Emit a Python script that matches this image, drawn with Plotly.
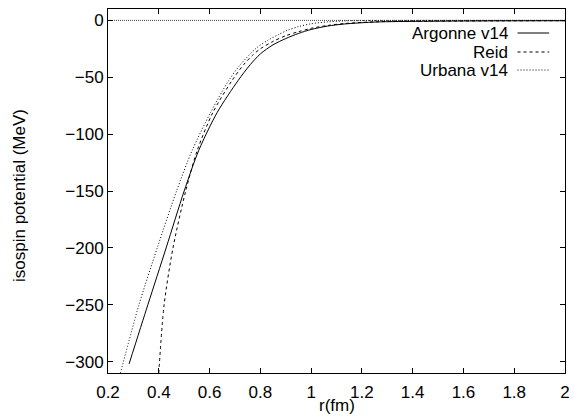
import plotly.graph_objects as go

# ---- data ----
r_argonne = [0.283, 0.357, 0.429, 0.50, 0.558, 0.63, 0.712, 0.76, 0.80, 0.85, 0.90, 0.95, 1.0, 1.065, 1.13, 1.26, 1.5, 1.75, 2.0]
v_argonne = [-302, -250, -200, -150, -114, -81, -53, -39, -29.5, -21.5, -16, -11.5, -8, -5, -3.2, -1.4, -0.7, -0.4, -0.3]

r_reid = [0.40, 0.421, 0.456, 0.506, 0.552, 0.613, 0.688, 0.734, 0.77, 0.80, 0.85, 0.90, 0.95, 1.0, 1.065, 1.13, 1.26, 1.5, 1.75, 2.0]
v_reid = [-310, -250, -200, -150, -114, -81, -53, -39, -30.5, -25, -18.5, -13.5, -10, -7, -4.5, -2.8, -1.2, -0.6, -0.4, -0.3]

r_urbana = [0.249, 0.322, 0.394, 0.47, 0.532, 0.604, 0.675, 0.721, 0.786, 0.83, 0.87, 0.909, 0.95, 1.0, 1.065, 1.13, 1.26, 1.5, 2.0]
v_urbana = [-310, -250, -200, -150, -114, -81, -53, -39, -24, -17.5, -12.6, -8.5, -5.5, -3, -1.3, -0.5, -0.1, 0, 0]

x_ticks = [0.2, 0.4, 0.6, 0.8, 1.0, 1.2, 1.4, 1.6, 1.8, 2.0]
x_ticktext = ["0.2", "0.4", "0.6", "0.8", "1", "1.2", "1.4", "1.6", "1.8", "2"]
y_ticks = [0, -50, -100, -150, -200, -250, -300]

series_names = ["Argonne v14", "Reid", "Urbana v14"]
series_dash = ["solid", "3px,3px", "1px,2px"]

FONT = "Liberation Sans, Arial, sans-serif"

PL, PR, PT, PB = 108, 570, 9, 373  # plot area in page pixels

fig = go.Figure()
for name, rr, vv, dash in zip(series_names,
                              [r_argonne, r_reid, r_urbana],
                              [v_argonne, v_reid, v_urbana],
                              series_dash):
    fig.add_trace(go.Scatter(x=rr, y=vv, mode="lines", name=name,
                             line=dict(color="black", width=1, dash=dash, shape="spline", smoothing=0.8),
                             showlegend=False, cliponaxis=True))

axis_common = dict(showgrid=False, zeroline=False, showline=True, linecolor="black", linewidth=1,
                   mirror="ticks", ticks="inside", ticklen=5, tickcolor="black",
                   ticklabeloverflow="allow",
                   tickfont=dict(family=FONT, size=17, color="black"))

fig.update_xaxes(range=[0.19999, 2.00001], tickvals=x_ticks, ticktext=x_ticktext,
                 ticklabelstandoff=4, **axis_common)
fig.update_yaxes(range=[-310, 10], tickvals=y_ticks, **axis_common)

# zero axis (dotted)
fig.add_shape(type="line", xref="paper", x0=0, x1=1, yref="y", y0=0, y1=0,
              line=dict(color="#444444", width=1, dash="1px,1px"), layer="below")

W = PR - PL
H = PB - PT
# legend (gnuplot style: text right, sample to the right)
leg_y = [33, 52, 70]
for name, dash, py in zip(series_names, series_dash, leg_y):
    yp = 1 - (py - PT) / H
    fig.add_annotation(text=name, xref="paper", yref="paper", x=(514 - PL) / W, y=yp,
                       xanchor="right", yanchor="middle", showarrow=False, height=18,
                       font=dict(family=FONT, size=17, color="black"))
    fig.add_shape(type="line", xref="paper", yref="paper",
                  x0=(522 - PL) / W, x1=(554 - PL) / W, y0=yp, y1=yp,
                  line=dict(color="black", width=1, dash=dash))

# axis titles
fig.add_annotation(text="r(fm)", xref="paper", yref="paper", x=0.5, y=-(406 - PB) / H,
                   xanchor="center", yanchor="middle", showarrow=False, height=17,
                   font=dict(family=FONT, size=17, color="black"))
fig.add_annotation(text="isospin potential (MeV)", xref="paper", yref="paper",
                   x=-(PL - 18) / W, y=1 - (195 - PT) / H,
                   xanchor="center", yanchor="middle", textangle=-90, showarrow=False,
                   font=dict(family=FONT, size=17, color="black"))

fig.update_layout(width=574, height=420,
                  margin=dict(l=PL, r=574 - PR, t=PT, b=420 - PB),
                  plot_bgcolor="white", paper_bgcolor="white", showlegend=False,
                  font=dict(family=FONT, size=17, color="black"))

fig.write_html("out.html", config={"displayModeBar": False},
               post_script="document.body.style.margin='0px';document.body.style.overflow='hidden';")
